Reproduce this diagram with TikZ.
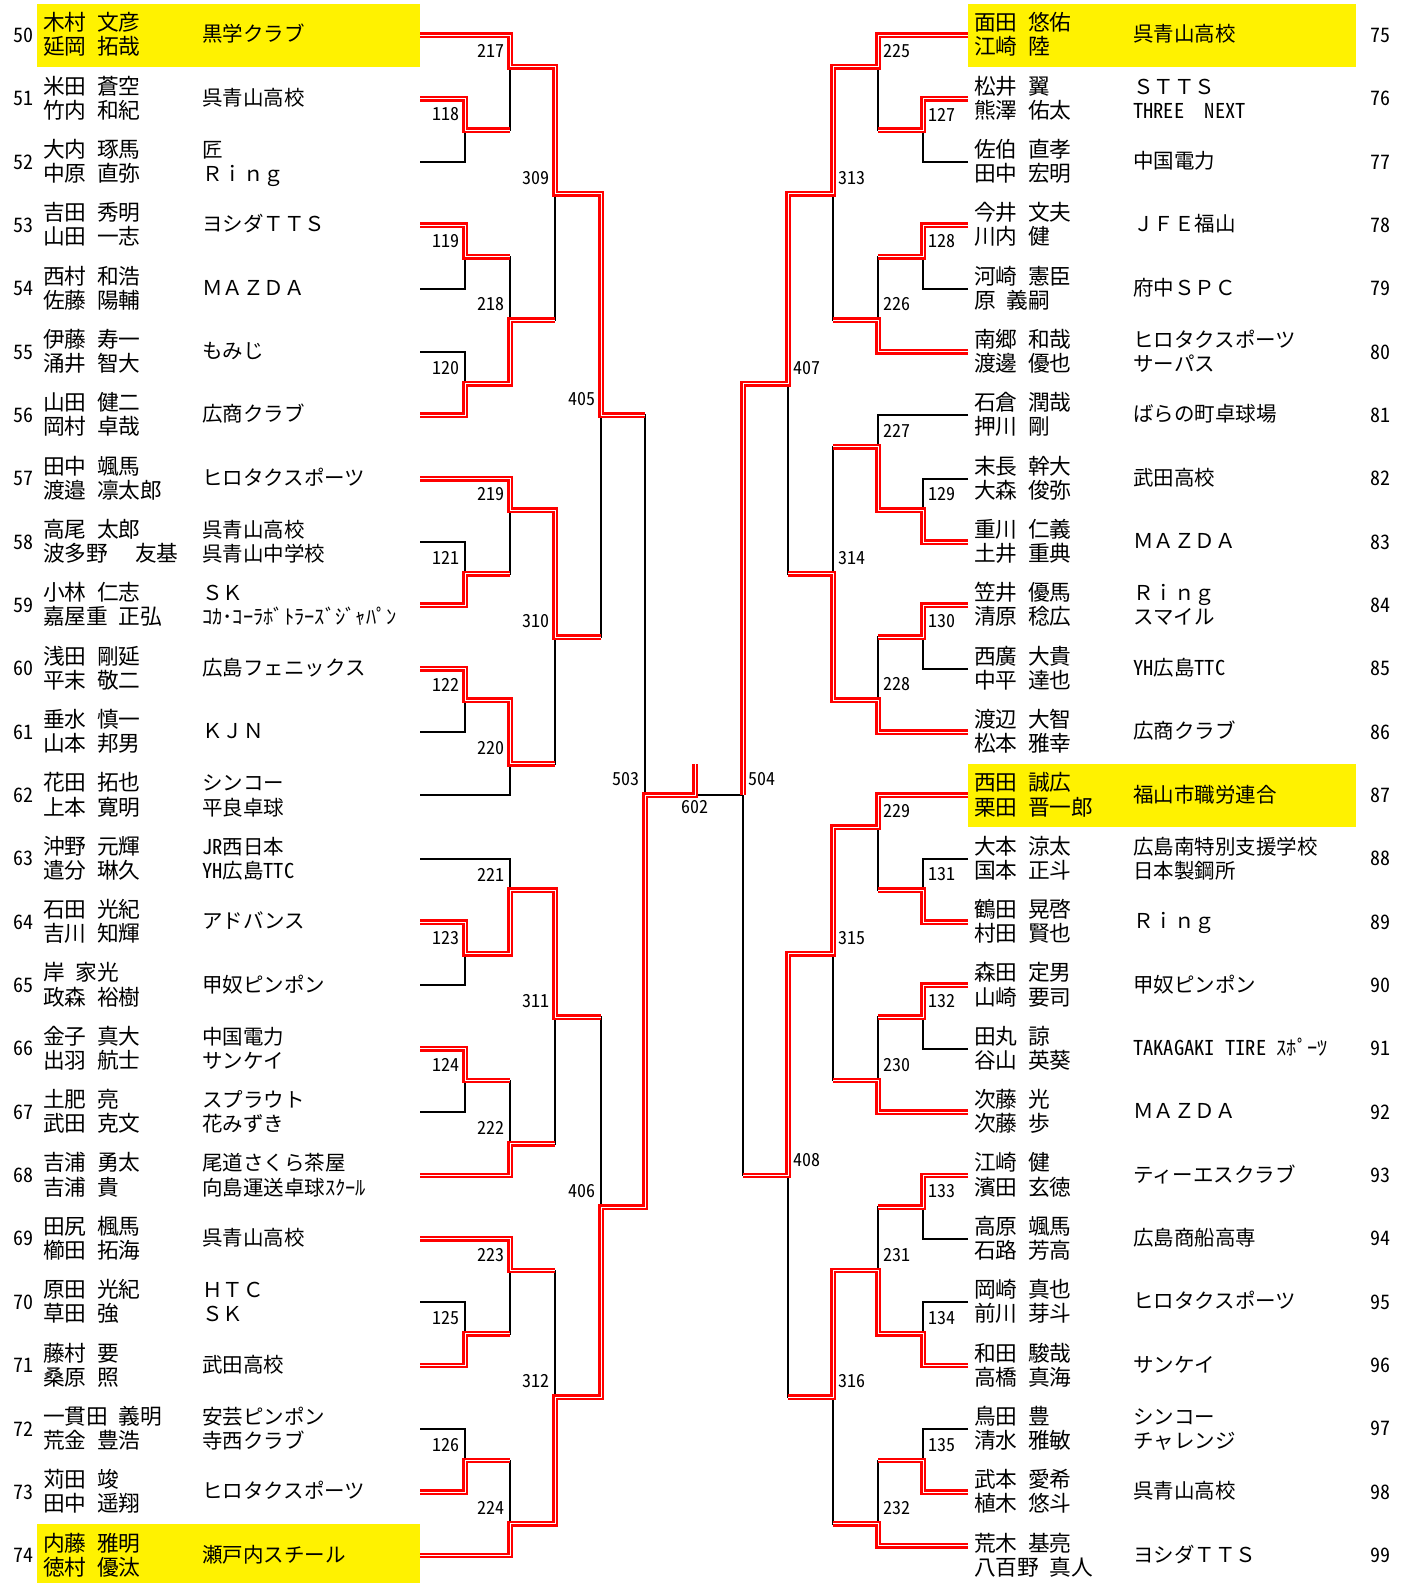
\documentclass[tikz,border=0pt]{standalone}
\usepackage{fontspec}
\setmainfont{Noto Sans CJK JP}[WordSpace=2.2]
\newfontfamily\hw{Noto Sans CJK JP}[RawFeature=+hwid]
\begin{document}
\begin{tikzpicture}[x=1pt, y=-31.67pt,
    lose/.style={line width=1.8pt},
    win/.style={draw=red, line width=2.4pt, double=white, double distance=1pt},
    seed/.style={fill=yellow},
    txt/.style={anchor=base west, inner sep=0pt},
    nm/.style={txt, font=\fontsize{21.7}{24}\selectfont},
    cl/.style={txt, font=\fontsize{20.5}{24}\selectfont},
    rno/.style={inner sep=0pt, font=\hw\fontsize{20}{20}\selectfont},
    mno/.style={inner sep=0pt, font=\hw\fontsize{18}{18}\selectfont}]
  \useasboundingbox (0,-0.114) rectangle (1408,49.87);
  \fill[seed] (37,0) rectangle (420,2);
  \fill[seed] (37,48) rectangle (420,50);
  \fill[seed] (968,0) rectangle (1356,2);
  \fill[seed] (968,24) rectangle (1356,26);
  % entries
  \foreach \i in {0,...,24} {
    \pgfmathtruncatemacro\rw{50+\i}
    \pgfmathtruncatemacro\rv{75+\i}
    \coordinate (e\rw) at (420,{2*\i+1});
    \coordinate (e\rv) at (968,{2*\i+1});
    \node[rno] (r\rw) at (23,{2*\i+1}) {\rw};
    \node[rno] (r\rv) at (1380,{2*\i+1}) {\rv};
  }
  \coordinate (e99) at (968,48.7);
  % left half
  \foreach \m/\x/\y/\a/\b in {
      118/465/4/e51/e52, 119/465/8/e53/e54, 120/465/12/e55/e56,
      121/465/18/e58/e59, 122/465/22/e60/e61, 123/465/30/e64/e65,
      124/465/34/e66/e67, 125/465/42/e70/e71, 126/465/46/e72/e73,
      217/510/2/e50/m118, 218/510/10/m119/m120, 219/510/16/e57/m121,
      220/510/24/m122/e62, 221/510/28/e63/m123, 222/510/36/m124/e68,
      223/510/40/e69/m125, 224/510/48/m126/e74,
      309/555/6/m217/m218, 310/555/20/m219/m220,
      311/555/32/m221/m222, 312/555/44/m223/m224,
      405/601/13/m309/m310, 406/601/38/m311/m312,
      503/645/25/m405/m406} {
    \coordinate (m\m) at (\x,\y);
    \draw[lose] (\a) -| (m\m) (\b) -| (m\m);
    \node[mno, anchor=east] (l\m) at (\x-5,\y-0.5) {\m};
  }
  % right half
  \foreach \m/\x/\y/\a/\b in {
      127/923/4/e76/e77, 128/923/8/e78/e79, 129/923/16/e82/e83,
      130/923/20/e84/e85, 131/923/28/e88/e89, 132/923/32/e90/e91,
      133/923/38/e93/e94, 134/923/42/e95/e96, 135/923/46/e97/e98,
      225/878/2/e75/m127, 226/878/10/m128/e80, 227/878/14/e81/m129,
      228/878/22/m130/e86, 229/878/26/e87/m131, 230/878/34/m132/e92,
      231/878/40/m133/m134, 232/878/48/m135/e99,
      313/833/6/m225/m226, 314/833/18/m227/m228,
      315/833/30/m229/m230, 316/833/44/m231/m232,
      407/788/12/m313/m314, 408/788/37/m315/m316,
      504/743/25/m407/m408} {
    \coordinate (m\m) at (\x,\y);
    \draw[lose] (\a) -| (m\m) (\b) -| (m\m);
    \node[mno, anchor=west] (l\m) at (\x+5,\y-0.5) {\m};
  }
  \coordinate (m602) at (695,24);
  \draw[lose] (m503) -| (m602) (m504) -| (m602);
  \node[mno] (l602) at (695,25.37) {602};
  % winners
  \draw[win] (e50) -| (m217) -| (m309) -| (m405) -- (m405 -| m503);
  \draw[win] (e51) -| (m118) -- (m118 -| m217);
  \draw[win] (e53) -| (m119) -- (m119 -| m218);
  \draw[win] (e56) -| (m120) -| (m218) -- (m218 -| m309);
  \draw[win] (e57) -| (m219) -| (m310) -- (m310 -| m405);
  \draw[win] (e59) -| (m121) -- (m121 -| m219);
  \draw[win] (e60) -| (m122) -| (m220) -- (m220 -| m310);
  \draw[win] (e64) -| (m123) -| (m221) -| (m311) -- (m311 -| m406);
  \draw[win] (e66) -| (m124) -- (m124 -| m222);
  \draw[win] (e68) -| (m222) -- (m222 -| m311);
  \draw[win] (e69) -| (m223) -- (m223 -| m312);
  \draw[win] (e71) -| (m125) -- (m125 -| m223);
  \draw[win] (e73) -| (m126) -- (m126 -| m224);
  \draw[win] (e74) -| (m224) -| (m312) -| (m406) -| (m503) -| (m602);
  \draw[win] (e75) -| (m225) -| (m313) -| (m407) -| (m504);
  \draw[win] (e76) -| (m127) -- (m127 -| m225);
  \draw[win] (e78) -| (m128) -- (m128 -| m226);
  \draw[win] (e80) -| (m226) -- (m226 -| m313);
  \draw[win] (e83) -| (m129) -| (m227) -- (m227 -| m314);
  \draw[win] (e84) -| (m130) -- (m130 -| m228);
  \draw[win] (e86) -| (m228) -| (m314) -- (m314 -| m407);
  \draw[win] (e87) -| (m229) -| (m315) -| (m408) -- (m408 -| m504);
  \draw[win] (e89) -| (m131) -- (m131 -| m229);
  \draw[win] (e90) -| (m132) -- (m132 -| m230);
  \draw[win] (e92) -| (m230) -- (m230 -| m315);
  \draw[win] (e93) -| (m133) -- (m133 -| m231);
  \draw[win] (e96) -| (m134) -| (m231) -| (m316) -- (m316 -| m408);
  \draw[win] (e98) -| (m135) -- (m135 -| m232);
  \draw[win] (e99) -| (m232) -- (m232 -| m316);
  % players
  \foreach \rw/\na/\nb in {
      50/木村 文彦/延岡 拓哉, 51/米田 蒼空/竹内 和紀, 52/大内 琢馬/中原 直弥,
      53/吉田 秀明/山田 一志, 54/西村 和浩/佐藤 陽輔, 55/伊藤 寿一/涌井 智大,
      56/山田 健二/岡村 卓哉, 57/田中 颯馬/渡邉 凛太郎,
      58/高尾 太郎/波多野\hspace{27pt}友基,
      59/小林 仁志/嘉屋重 正弘, 60/浅田 剛延/平末 敬二, 61/垂水 慎一/山本 邦男,
      62/花田 拓也/上本 寛明, 63/沖野 元輝/遣分 琳久, 64/石田 光紀/吉川 知輝,
      65/岸 家光/政森 裕樹, 66/金子 真大/出羽 航士, 67/土肥 亮/武田 克文,
      68/吉浦 勇太/吉浦 貴, 69/田尻 楓馬/櫛田 拓海, 70/原田 光紀/草田 強,
      71/藤村 要/桑原 照, 72/一貫田 義明/荒金 豊浩, 73/苅田 竣/田中 遥翔,
      74/内藤 雅明/徳村 優汰,
      75/面田 悠佑/江崎 陸, 76/松井 翼/熊澤 佑太, 77/佐伯 直孝/田中 宏明,
      78/今井 文夫/川内 健, 79/河崎 憲臣/原 義嗣, 80/南郷 和哉/渡邊 優也,
      81/石倉 潤哉/押川 剛, 82/末長 幹大/大森 俊弥, 83/重川 仁義/土井 重典,
      84/笠井 優馬/清原 稔広, 85/西廣 大貴/中平 達也, 86/渡辺 大智/松本 雅幸,
      87/西田 誠広/栗田 晋一郎, 88/大本 涼太/国本 正斗, 89/鶴田 晃啓/村田 賢也,
      90/森田 定男/山崎 要司, 91/田丸 諒/谷山 英葵, 92/次藤 光/次藤 歩,
      93/江崎 健/濱田 玄徳, 94/高原 颯馬/石路 芳高, 95/岡崎 真也/前川 芽斗,
      96/和田 駿哉/高橋 真海, 97/鳥田 豊/清水 雅敏, 98/武本 愛希/植木 悠斗,
      99/荒木 基亮/八百野 真人} {
    \pgfmathsetmacro\px{\rw<75 ? 43 : 974}
    \pgfmathsetmacro\py{2*mod(\rw-50,25)+1}
    \node[nm] (na\rw) at (\px,\py-0.14) {\na};
    \node[nm] (nb\rw) at (\px,\py+0.62) {\nb};
  }
  % clubs, one line
  \foreach \rw/\ca in {
      50/黒学クラブ, 51/呉青山高校, 53/ヨシダＴＴＳ, 54/ＭＡＺＤＡ, 55/もみじ,
      56/広商クラブ, 57/ヒロタクスポーツ, 60/広島フェニックス, 61/ＫＪＮ,
      64/アドバンス, 65/甲奴ピンポン, 69/呉青山高校, 71/武田高校,
      73/ヒロタクスポーツ, 74/瀬戸内スチール,
      75/呉青山高校, 77/中国電力, 78/ＪＦＥ福山, 79/府中ＳＰＣ, 81/ばらの町卓球場,
      82/武田高校, 83/ＭＡＺＤＡ, 85/{\hw YH}広島{\hw TTC}, 86/広商クラブ,
      87/福山市職労連合, 89/Ｒｉｎｇ, 90/甲奴ピンポン,
      91/{\hw TAKAGAKI TIRE }ｽﾎﾟｰﾂ, 92/ＭＡＺＤＡ, 93/ティーエスクラブ,
      94/広島商船高専, 95/ヒロタクスポーツ, 96/サンケイ, 98/呉青山高校,
      99/ヨシダＴＴＳ} {
    \pgfmathsetmacro\px{\rw<75 ? 202 : 1133}
    \pgfmathsetmacro\py{2*mod(\rw-50,25)+1}
    \node[cl] (ca\rw) at (\px,\py+0.21) {\ca};
  }
  % clubs, two lines
  \foreach \rw/\ca/\cb in {
      52/匠/Ｒｉｎｇ, 58/呉青山高校/呉青山中学校,
      59/ＳＫ/ｺｶ･ｺｰﾗﾎﾞﾄﾗｰｽﾞｼﾞｬﾊﾟﾝ, 62/シンコー/平良卓球,
      63/{\hw JR}西日本/{\hw YH}広島{\hw TTC}, 66/中国電力/サンケイ,
      67/スプラウト/花みずき, 68/尾道さくら茶屋/向島運送卓球ｽｸｰﾙ,
      70/ＨＴＣ/ＳＫ, 72/安芸ピンポン/寺西クラブ,
      76/ＳＴＴＳ/{\hw THREE}　{\hw NEXT}, 80/ヒロタクスポーツ/サーパス,
      84/Ｒｉｎｇ/スマイル, 88/広島南特別支援学校/日本製鋼所,
      97/シンコー/チャレンジ} {
    \pgfmathsetmacro\px{\rw<75 ? 202 : 1133}
    \pgfmathsetmacro\py{2*mod(\rw-50,25)+1}
    \node[cl] (ca\rw) at (\px,\py-0.14) {\ca};
    \node[cl] (cb\rw) at (\px,\py+0.62) {\cb};
  }
\end{tikzpicture}
\end{document}
